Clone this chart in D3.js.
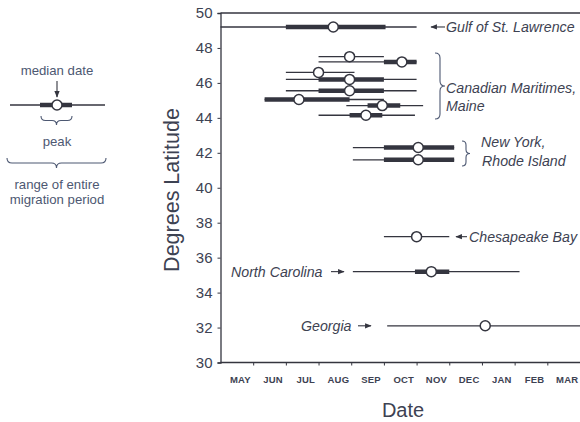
<!DOCTYPE html>
<html>
<head>
<meta charset="utf-8">
<script src="https://cdn.jsdelivr.net/npm/d3@7"></script>
<style>
  body { margin: 0; background: #fff; }
  svg { display: block; font-family: "Liberation Sans", Arial, sans-serif; }
</style>
</head>
<body>
<svg id="chart" width="580" height="422"></svg>
<script>
// months, counted from May 1 (0) -- tick marks sit on month boundaries
const months = ["MAY", "JUN", "JUL", "AUG", "SEP", "OCT", "NOV", "DEC", "JAN", "FEB", "MAR"];
const lat_ticks = [30, 32, 34, 36, 38, 40, 42, 44, 46, 48, 50];

// one entry per population (dates in months since May 1)
const latitude   = [49.2, 47.5, 47.2, 46.6, 46.2, 45.55, 45.05, 44.7, 44.15, 42.3, 41.6, 37.2, 35.2, 32.1];
const range_start = [0.0, 3.0, 3.0, 2.0, 2.0, 2.0, 1.35, 3.85, 3.0, 4.05, 4.05, 5.0, 4.05, 5.1];
const range_end   = [6.0, 5.0, 6.0, 4.1, 6.0, 6.0, 5.0, 6.2, 5.95, 7.15, 7.15, 7.0, 9.15, 11];
const peak_start  = [2.0, null, 5.0, null, 3.0, 3.0, 1.35, 4.5, 3.95, 5.0, 5.0, null, 5.95, null];
const peak_end    = [5.05, null, 6.0, null, 5.0, 5.0, 3.95, 5.5, 4.95, 7.15, 7.15, null, 7.0, null];
const median      = [3.45, 3.95, 5.55, 3.0, 3.95, 3.95, 2.4, 4.95, 4.45, 6.05, 6.05, 6.0, 6.45, 8.1];

const line_col = "#34353f";
const text_col = "#3d4252";
const legend_col = "#4d5872";

const svg = d3.select("#chart");

const x = d3.scaleLinear().domain([0, 11]).range([220.5, 580]);
const y = d3.scaleLinear().domain([30, 50]).range([362.5, 13]);

// top frame line
svg.append("line")
	.attr("x1", x(0)).attr("x2", 580)
	.attr("y1", y(50)).attr("y2", y(50))
	.attr("stroke", line_col).attr("stroke-width", 1.3);

// y axis
const yAxis = svg.append("g")
	.attr("transform", `translate(${x(0)},0)`)
	.call(d3.axisLeft(y).tickValues(lat_ticks).tickSize(3).tickPadding(5));
yAxis.select(".domain").attr("stroke", line_col).attr("stroke-width", 1.3);
yAxis.selectAll(".tick line").attr("stroke", line_col);
yAxis.selectAll("text")
	.attr("font-size", 15)
	.attr("font-family", "Liberation Sans, Arial, sans-serif")
	.attr("fill", text_col);

// x axis: ticks on month boundaries, labels in the middle of each month
const xAxis = svg.append("g")
	.attr("transform", `translate(0,${y(30)})`)
	.call(d3.axisBottom(x).tickValues(d3.range(1, 11)).tickSize(3).tickFormat(""));
xAxis.select(".domain").attr("stroke", line_col).attr("stroke-width", 1.3).attr("d", `M${x(0)},0H580`);
xAxis.selectAll(".tick line").attr("stroke", line_col);

const xLab = svg.append("g")
	.attr("transform", `translate(3,${y(30)})`)
	.call(d3.axisBottom(x).tickValues(months.map((m, i) => i + 0.5))
		.tickSize(0).tickPadding(14).tickFormat((d, i) => months[i]));
xLab.select(".domain").remove();
xLab.selectAll("text")
	.attr("font-size", 9.5)
	.attr("font-weight", "bold")
	.attr("font-family", "Liberation Sans, Arial, sans-serif")
	.attr("letter-spacing", 0.2)
	.attr("fill", text_col);

// axis titles
svg.append("text")
	.attr("transform", `translate(179,190) rotate(-90)`)
	.attr("text-anchor", "middle")
	.attr("font-size", 21.5)
	.attr("fill", text_col)
	.text("Degrees Latitude");
svg.append("text")
	.attr("x", 403).attr("y", 417)
	.attr("text-anchor", "middle")
	.attr("font-size", 20)
	.attr("fill", text_col)
	.text("Date");

// the migration bars
const rows = latitude.map((lat, i) => ({
	lat: lat, r0: range_start[i], r1: range_end[i],
	p0: peak_start[i], p1: peak_end[i], med: median[i]
}));

const plot = svg.append("g");
plot.selectAll("line.range")
	.data(rows)
	.join("line")
	.attr("class", "range")
	.attr("x1", (d) => x(d.r0)).attr("x2", (d) => x(d.r1))
	.attr("y1", (d) => y(d.lat)).attr("y2", (d) => y(d.lat))
	.attr("stroke", line_col).attr("stroke-width", 1.3);

plot.selectAll("line.peak")
	.data(rows.filter((d) => d.p0 !== null))
	.join("line")
	.attr("class", "peak")
	.attr("x1", (d) => x(d.p0)).attr("x2", (d) => x(d.p1))
	.attr("y1", (d) => y(d.lat)).attr("y2", (d) => y(d.lat))
	.attr("stroke", line_col).attr("stroke-width", 4.5);

plot.selectAll("circle")
	.data(rows)
	.join("circle")
	.attr("cx", (d) => x(d.med)).attr("cy", (d) => y(d.lat))
	.attr("r", 5)
	.attr("fill", "#fff")
	.attr("stroke", line_col).attr("stroke-width", 1.5);

// arrowhead marker
svg.append("defs").append("marker")
	.attr("id", "head")
	.attr("viewBox", "0 0 10 10")
	.attr("refX", 9).attr("refY", 5)
	.attr("markerWidth", 6).attr("markerHeight", 6)
	.attr("orient", "auto")
	.append("path")
	.attr("d", "M0,1L10,5L0,9Z")
	.attr("fill", line_col);

function arrow(x1, y1, x2, y2) {
	svg.append("line")
		.attr("x1", x1).attr("y1", y1).attr("x2", x2).attr("y2", y2)
		.attr("stroke", line_col).attr("stroke-width", 1.1)
		.attr("marker-end", "url(#head)");
}

function label(txt, lx, ly, anchor) {
	svg.append("text")
		.attr("x", lx).attr("y", ly)
		.attr("text-anchor", anchor || "start")
		.attr("font-size", 14.2)
		.attr("font-style", "italic")
		.attr("fill", text_col)
		.text(txt);
}

// vertical curly brace, tip pointing right
function vbrace(bx, y1, y2, w) {
	const m = (y1 + y2) / 2, h = w / 2;
	svg.append("path")
		.attr("d", `M${bx},${y1}Q${bx + h},${y1} ${bx + h},${y1 + h}L${bx + h},${m - h}` +
			`Q${bx + h},${m} ${bx + w},${m}Q${bx + h},${m} ${bx + h},${m + h}` +
			`L${bx + h},${y2 - h}Q${bx + h},${y2} ${bx},${y2}`)
		.attr("fill", "none").attr("stroke", legend_col).attr("stroke-width", 1.1);
}

// horizontal curly brace, tip pointing down
function hbrace(x1, x2, by, h, col) {
	const m = (x1 + x2) / 2, k = h / 2;
	svg.append("path")
		.attr("d", `M${x1},${by}Q${x1},${by + k} ${x1 + k},${by + k}L${m - k},${by + k}` +
			`Q${m},${by + k} ${m},${by + h}Q${m},${by + k} ${m + k},${by + k}` +
			`L${x2 - k},${by + k}Q${x2},${by + k} ${x2},${by}`)
		.attr("fill", "none").attr("stroke", col).attr("stroke-width", 1.1);
}

const yl = (i) => y(latitude[i]);

// Gulf of St. Lawrence
arrow(445, yl(0), 431, yl(0));
label("Gulf of St. Lawrence", 446, yl(0) + 5);

// Canadian Maritimes, Maine
vbrace(435, 53, 119, 10);
label("Canadian Maritimes,", 446, 93);
label("Maine", 446, 111);

// New York, Rhode Island
vbrace(462, 141, 166, 8);
label("New York,", 481, 147);
label("Rhode Island", 482, 166);

// Chesapeake Bay
arrow(467, yl(11), 456, yl(11));
label("Chesapeake Bay", 469, yl(11) + 5);

// North Carolina
label("North Carolina", 231, yl(12) + 5);
arrow(331, yl(12), 344, yl(12));

// Georgia
label("Georgia", 301, yl(13) + 5);
arrow(358, yl(13), 371, yl(13));

// legend on the left
const leg = svg.append("g");
leg.append("line").attr("x1", 10).attr("x2", 105).attr("y1", 105).attr("y2", 105)
	.attr("stroke", line_col).attr("stroke-width", 1.3);
leg.append("line").attr("x1", 40).attr("x2", 72).attr("y1", 105).attr("y2", 105)
	.attr("stroke", line_col).attr("stroke-width", 4.5);
leg.append("circle").attr("cx", 57).attr("cy", 105).attr("r", 5)
	.attr("fill", "#fff").attr("stroke", line_col).attr("stroke-width", 1.5);
arrow(57, 81, 57, 97);

const legText = (txt, ly) => leg.append("text")
	.attr("x", 57).attr("y", ly)
	.attr("text-anchor", "middle")
	.attr("font-size", 13.2)
	.attr("fill", legend_col)
	.text(txt);
legText("median date", 75);
hbrace(41, 72, 116, 9, legend_col);
legText("peak", 146);
hbrace(7, 106, 158, 10, legend_col);
legText("range of entire", 189);
legText("migration period", 204);
</script>
</body>
</html>
